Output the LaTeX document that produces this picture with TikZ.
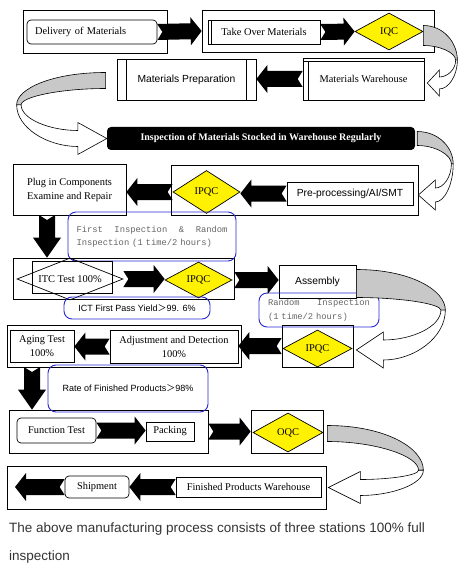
\documentclass[tikz,border=0pt]{standalone}
\usepackage{fontspec}
\setmainfont{Liberation Serif}
\setsansfont{Liberation Sans}
\setmonofont{Liberation Mono}
\newfontfamily\cjk{Noto Sans CJK SC}
\usepackage{tikz}
\usetikzlibrary{calc}
\usetikzlibrary{shapes.geometric}
\definecolor{ribbongray}{RGB}{200,200,200}
\definecolor{noteblue}{RGB}{40,40,210}
\definecolor{notegray}{RGB}{100,100,100}
\definecolor{captext}{RGB}{51,51,51}
\tikzset{%
  frame/.style = {rectangle,draw,line width=0.7pt,inner sep=0pt},
  box/.style = {rectangle,draw,line width=0.7pt,inner sep=2pt,
        font=\fontsize{10.4}{14}\selectfont},
  rbox/.style = {box,rounded corners=4pt},
  sbox/.style = {box,font=\sffamily\fontsize{10.3}{14}\selectfont},
  dia/.style = {diamond,draw,fill=yellow,line width=0.7pt,inner sep=0pt,
        aspect=2,font=\fontsize{10.4}{14}\selectfont},
  note/.style = {rectangle,draw=noteblue,rounded corners=8pt,
        line width=0.9pt,inner sep=0pt},
  monotext/.style = {text=notegray,font=\ttfamily\fontsize{8.8}{13.5}\selectfont},
  sanstext/.style = {font=\sffamily\fontsize{9}{12}\selectfont},
  blk/.style = {fill=black,to path={
        ($(\tikztostart)!8pt!90:(\tikztotarget)$) --
        ($(\tikztotarget)!#1!(\tikztostart)!8pt!-90:(\tikztostart)$) --
        ($(\tikztotarget)!#1!(\tikztostart)!14pt!-90:(\tikztostart)$) --
        (\tikztotarget) --
        ($(\tikztotarget)!#1!(\tikztostart)!14pt!90:(\tikztostart)$) --
        ($(\tikztotarget)!#1!(\tikztostart)!8pt!90:(\tikztostart)$) --
        ($(\tikztostart)!8pt!-90:(\tikztotarget)$) --
        ($(\tikztostart)!5pt!(\tikztotarget)$) -- cycle}},
  blk/.default = 11pt,
  ribbonback/.style = {fill=ribbongray,draw=black,line width=0.6pt},
  ribbonfront/.style = {fill=white,draw=black,line width=0.6pt}
}
% #1 start, #2 tip, #3 half band, #4 reach, #5 turn, #6 head length, #7 head half, #8 shaft half
\newcommand{\ribbon}[8]{%
  \filldraw[ribbonback] let \p1=(#1), \p2=(#2) in
    ({\x1},{\y1+#3*1pt})
    .. controls ({\x1+0.6*(#4)*1pt},{\y1+#3*1pt})
       and ({\x1+(#4)*1pt},{\y1+#3*1pt+0.5*(#5*(\y2-\y1)-#3*1pt)})
    .. ({\x1+(#4)*1pt},{\y1+#5*(\y2-\y1)})
    -- ({\x1+0.95*(#4)*1pt},{\y1+#5*(\y2-\y1)})
    .. controls ({\x1+0.95*(#4)*1pt},{\y1-#3*1pt+0.5*(#5*(\y2-\y1)+#3*1pt)})
       and ({\x1+0.5*(#4)*1pt},{\y1-#3*1pt})
    .. ({\x1},{\y1-#3*1pt}) -- cycle;
  \filldraw[ribbonfront] let \p1=(#1), \p2=(#2) in
    ({\x1+(#4)*1pt},{\y1+#5*(\y2-\y1)})
    .. controls ({\x1+(#4)*1pt},{\y1+#5*(\y2-\y1)+0.55*(\y2-#8*1pt-\y1-#5*(\y2-\y1))})
       and ({0.5*(\x2+(#6)*1pt+\x1+(#4)*1pt)},{\y2-#8*1pt})
    .. ({\x2+(#6)*1pt},{\y2-#8*1pt})
    -- ({\x2+(#6)*1pt},{\y2-#7*1pt}) -- (\p2)
    -- ({\x2+(#6)*1pt},{\y2+#7*1pt}) -- ({\x2+(#6)*1pt},{\y2+#8*1pt})
    .. controls ({0.5*(\x2+(#6)*1pt+\x1+0.95*(#4)*1pt)},{\y2+#8*1pt})
       and ({\x1+0.95*(#4)*1pt},{\y1+#5*(\y2-\y1)+0.55*(\y2+#8*1pt-\y1-#5*(\y2-\y1))})
    .. ({\x1+0.95*(#4)*1pt},{\y1+#5*(\y2-\y1)}) -- cycle;
}

\begin{document}
\begin{tikzpicture}[x=1pt,y=-1pt]
    \useasboundingbox (0,0) rectangle (462,572);
    % frames
    \node[frame, minimum width=144pt, minimum height=43pt] (out1) at (95,31.5) {};
    \node[frame, minimum width=232pt, minimum height=42pt] (out2) at (318,31) {};
    \node[frame, minimum width=247pt, minimum height=50pt] (out4) at (294.5,190) {};
    \node[frame, minimum width=221pt, minimum height=41pt] (out5) at (123.5,278.5) {};
    \node[frame, minimum width=234pt, minimum height=42pt] (out6) at (124,346) {};
    \node[frame, minimum width=71pt, minimum height=42pt] (ipqcbox) at (317.5,346) {};
    \node[frame, minimum width=199pt, minimum height=43pt] (out7) at (108.5,431.5) {};
    \node[frame, minimum width=72pt, minimum height=43pt] (oqcbox) at (287,431.5) {};
    \node[frame, minimum width=319pt, minimum height=43pt] (out9) at (166.5,487.5) {};

    \node[rbox, text width=114pt, align=left, inner xsep=8pt, minimum height=24pt] (deliv) at (92,32) {Delivery of Materials};
    \node[box, minimum width=112pt, minimum height=24pt] (take) at (264,32) {Take Over Materials};
    \node[dia, minimum width=68pt, minimum height=37pt] (iqc) at (389,31.5) {IQC};

    \node[box, minimum width=121pt, minimum height=42pt] (wh) at (363.5,79) {Materials Warehouse};
    \node[sbox, minimum width=139pt, minimum height=41pt] (prep) at (186.5,79.5) {Materials Preparation};

    \node[rectangle, fill=black, rounded corners=4pt, text=white, minimum width=308pt, minimum height=23pt,
        font=\bfseries\fontsize{10}{12}\selectfont] (insp) at (261,138.5) {Inspection of Materials Stocked in Warehouse Regularly};

    \node[sbox, minimum width=126pt, minimum height=23pt] (pre) at (350,193.5) {Pre-processing/AI/SMT};
    \node[dia, minimum width=67pt, minimum height=43pt] (ipqc1) at (206.5,192) {IPQC};
    \node[box, minimum width=113pt, minimum height=51pt, align=center] (plug) at (69.5,189.5) {Plug in Components\\Examine and Repair};

    \node[note, monotext, minimum width=168pt, minimum height=49pt, text width=151pt, align=left] (note1) at (152,236.5)
        {\makebox[151pt]{First\hfill Inspection\hfill\&\hfill Random}\\Inspection (1 time/2 hours)};
    \node[frame, minimum width=80pt, minimum height=32pt] (itc) at (72,277) {};
    \node[diamond, draw, line width=0.7pt, aspect=2.5, inner sep=0pt, minimum width=106pt, minimum height=42pt,
        font=\fontsize{10.4}{14}\selectfont] (itcd) at (70,279) {ITC Test 100\%};
    \node[dia, minimum width=67pt, minimum height=36pt] (ipqc2) at (198.5,280) {IPQC};
    \node[sbox, minimum width=77pt, minimum height=33pt] (asm) at (317.5,281.5) {Assembly};
    \node[note, sanstext, minimum width=146pt, minimum height=22pt] (note2) at (137,308) {ICT First Pass Yield{\cjk ＞}99. 6\%};
    \node[note, monotext, minimum width=120pt, minimum height=34pt, text width=102pt, align=left] (note3) at (319,310)
        {\makebox[102pt]{Random\hfill Inspection}\\(1 time/2 hours)};

    \node[box, minimum width=64pt, minimum height=32pt, align=center] (aging) at (42,346) {Aging Test\\100\%};
    \node[box, minimum width=128pt, minimum height=33pt, align=center] (adj) at (174,346.5) {Adjustment and Detection\\100\%};
    \node[dia, minimum width=69pt, minimum height=37pt] (ipqc3) at (317.5,348.5) {IPQC};

    \node[note, sanstext, minimum width=160pt, minimum height=47pt] (note4) at (128,388.5) {Rate of Finished Products{\cjk ＞}98\%};

    \node[rbox, minimum width=79pt, minimum height=25pt] (func) at (56.5,430.5) {Function Test};
    \node[box, minimum width=48pt, minimum height=19pt] (pack) at (170,431.5) {Packing};
    \node[dia, minimum width=70pt, minimum height=39pt] (oqc) at (288,432.5) {OQC};

    \node[box, minimum width=145pt, minimum height=20pt] (fpw) at (248.5,487) {Finished Products Warehouse};
    \node[rbox, minimum width=64pt, minimum height=22pt] (ship) at (97,487) {Shipment};
    \coordinate (shipend) at (15,487);

    % double edges
    \draw[line width=0.7pt] ([xshift=4pt]take.north west) -- ([xshift=4pt]take.south west);
    \draw[line width=0.7pt] ([yshift=-4pt]wh.north west) -- ([yshift=-4pt]wh.north east);
    \draw[line width=0.7pt] ([xshift=6pt,yshift=-4pt]wh.north west) -- ([xshift=6pt]wh.south west);
    \draw[line width=0.7pt] ([xshift=10pt]prep.north west) -- ([xshift=10pt]prep.south west);
    \draw[line width=0.7pt] ([xshift=-10pt]prep.north east) -- ([xshift=-10pt]prep.south east);

    % block arrows
    \fill[blk] (deliv.east) to (out2.west);
    \fill[blk] (take.east) to (iqc.west);
    \fill[blk] (wh.west) to (wh.west -| prep.east);
    \fill[blk] (pre.west) to (pre.west -| ipqc1.east);
    \fill[blk] (ipqc1.west) to (ipqc1.west -| plug.east);
    \coordinate (dn1) at (47,215);
    \fill[blk=20pt] (dn1) to (dn1 |- out5.north);
    \fill[blk] (itcd.east) to (itcd.east -| ipqc2.west);
    \fill[blk] (ipqc2.east -| out5.east) to (ipqc2.east -| asm.west);
    \fill[blk] (ipqcbox.west) to (ipqcbox.west -| adj.east);
    \fill[blk] (adj.west) to (adj.west -| aging.east);
    \coordinate (dn2) at (32,367);
    \fill[blk=20pt] (dn2) to (dn2 |- out7.north);
    \fill[blk] (func.east) to (func.east -| pack.west);
    \fill[blk] (out7.east) to (out7.east -| oqcbox.west);
    \fill[blk] (fpw.west) to (fpw.west -| ship.east);
    \fill[blk] (ship.west) to (shipend);

    % curved arrows
    \ribbon{$(iqc.east)+(0,4)$}{$(wh.east)+(3,4)$}{10}{34}{0.52}{12}{13}{6}
    \ribbon{$(prep.west)+(-11,1)$}{insp.west}{8}{-89}{0.42}{-29}{16}{8}
    \ribbon{$(insp.east)+(2,0)$}{$(out4.east)+(0,5)$}{7}{36}{0.45}{17}{15}{7}
    \ribbon{$(asm.east)+(0,2)$}{$(ipqcbox.east)+(3,4)$}{14}{89}{0.4}{27}{18}{10}
    \ribbon{$(oqcbox.east)+(4,2)$}{$(out9.east)+(2,0)$}{8}{96}{0.68}{32}{16}{8}

    \node[anchor=base west, inner sep=0pt, text=captext, font=\sffamily\fontsize{13.5}{16}\selectfont] (cap1) at (9,532)
        {The above manufacturing process consists of three stations 100\% full};
    \node[anchor=base west, inner sep=0pt, text=captext, font=\sffamily\fontsize{13.5}{16}\selectfont] (cap2) at (9,560)
        {inspection};
\end{tikzpicture}
\end{document}
